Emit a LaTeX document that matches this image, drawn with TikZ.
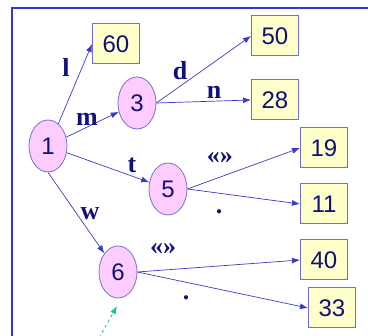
\documentclass[tikz,border=0pt]{standalone}
\usepackage{fontspec}
\setmainfont{Liberation Serif}
\newfontfamily\numfont{Liberation Sans}
\usepackage{xcolor}
\usepackage{tikz}
\usetikzlibrary{shapes.geometric, arrows.meta, positioning}
\definecolor{framblue}{HTML}{3535E0}
\definecolor{edgeblue}{HTML}{3A3AC8}
\definecolor{borderblue}{HTML}{7070D8}
\definecolor{textnavy}{HTML}{10107A}
\definecolor{statepink}{HTML}{FFCCFF}
\definecolor{leafyellow}{HTML}{FFFFCC}
\definecolor{hintgreen}{HTML}{10C890}

\begin{document}
\begin{tikzpicture}[
    x=1pt, y=-1pt,
    state/.style={
        draw=borderblue, line width=0.8pt, fill=statepink,
        ellipse, minimum width=38pt, minimum height=52pt,
        inner sep=0pt, text=textnavy,
        font=\numfont\fontsize{24}{28}\selectfont
    },
    leaf/.style={
        draw=borderblue, line width=1pt, fill=leafyellow,
        rectangle, minimum width=47pt, minimum height=40pt,
        inner sep=0pt, text=textnavy,
        font=\numfont\fontsize{24}{28}\selectfont
    },
    lab/.style={
        anchor=base, inner sep=0pt, text=textnavy,
        font=\bfseries\fontsize{26}{30}\selectfont
    },
    arr/.style={
        -{Latex[length=8pt, width=6pt]}, line width=0.7pt, draw=edgeblue
    },
]
\useasboundingbox (0,0) rectangle (368,336);
\draw[framblue, line width=1.4pt] (12,336) |- (368,8);

\node[state] (n1) at (48,146) {1};
\node[state] (n3) at (137,103) {3};
\node[state] (n5) at (168,189) {5};
\node[state] (n6) at (118,272) {6};

\node[leaf] (v60) at (116,44) {60};
\node[leaf] (v50) at (275,36) {50};
\node[leaf] (v28) at (275,100) {28};
\node[leaf] (v19) at (324,148) {19};
\node[leaf] (v11) at (324,204) {11};
\node[leaf] (v40) at (324,260) {40};
\node[leaf] (v33) at (332,308) {33};

\draw[arr] (n1.65) -- (v60.west);
\draw[arr] (n1) -- (n3);
\draw[arr] (n1) -- (n5);
\draw[arr] (n1.south) -- (n6.north west);
\draw[arr] (n3.east) -- (v50.west);
\draw[arr] (n3.east) -- (v28.west);
\draw[arr] (n5.east) -- (v19.west);
\draw[arr] (n5.east) -- (v11.west);
\draw[arr] (n6.east) -- (v40.west);
\draw[arr] (n6.east) -- (v33.west);

\node[lab] (ll) at (66,77) {l};
\node[lab] (lm) at (87,126) {m};
\node[lab] (ld) at (180,80) {d};
\node[lab] (ln) at (214,99) {n};
\node[lab] (lt) at (132,173) {t};
\node[lab] (lw) at (90,220) {w};
\node[lab] (lq5) at (220,164) {«»};
\node[lab] (ldot5) at (219,214) {.};
\node[lab] (lq6) at (163,255) {«»};
\node[lab] (ldot6) at (186,300) {.};

\coordinate (hint) at (99,338);
\coordinate (hinttip) at (117,306);
\draw[hintgreen, line width=0.9pt, dashed, -{Latex[length=8pt, width=6pt]}] (hint) -- (hinttip);
\end{tikzpicture}
\end{document}
